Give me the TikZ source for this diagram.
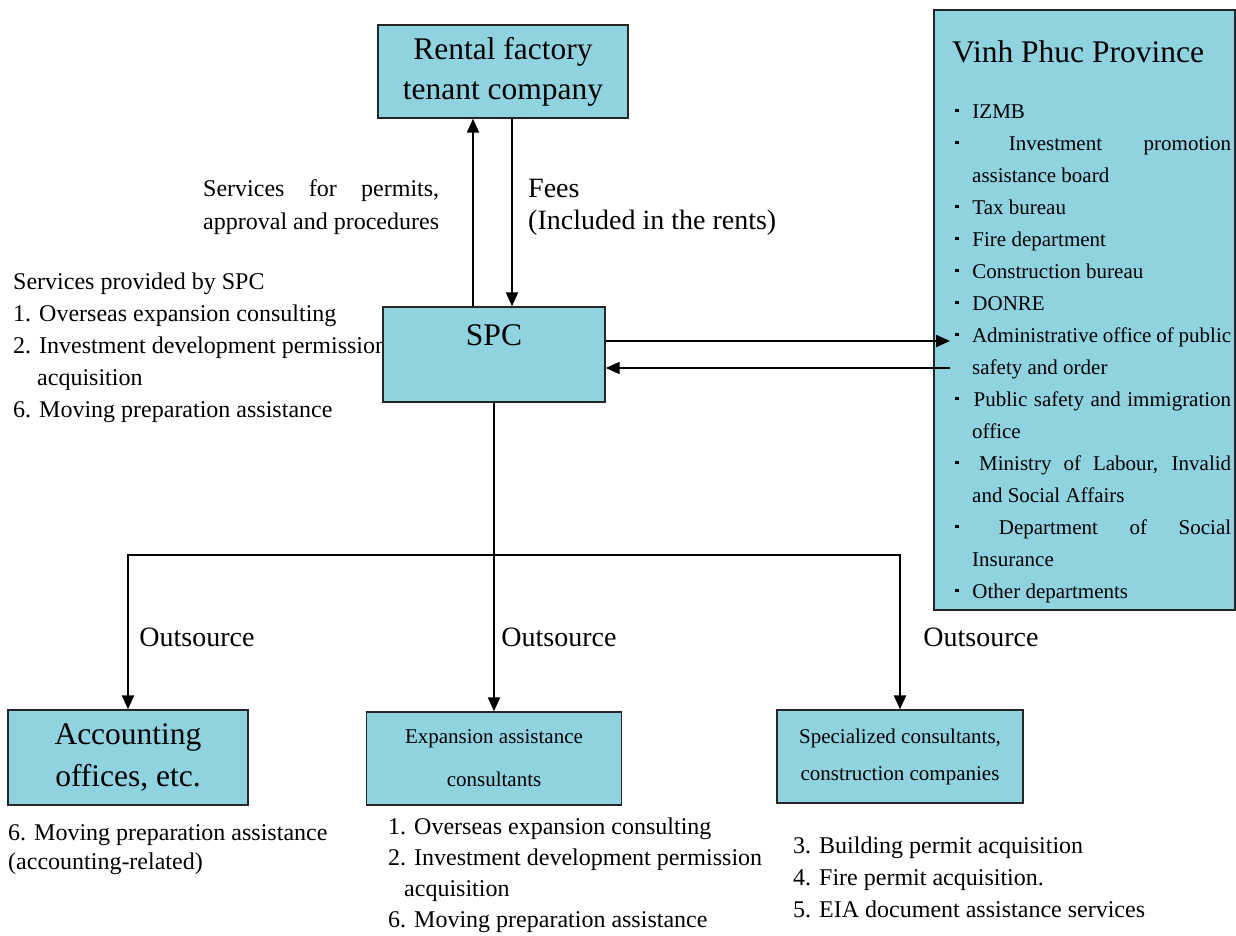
\documentclass[tikz,border=0pt]{standalone}
\usepackage{fontspec}
\setmainfont{Liberation Serif}
\usetikzlibrary{arrows.meta,positioning,calc}

\definecolor{boxblue}{RGB}{143,211,224}
\newcommand{\fs}[2]{\fontsize{#1}{#2}\selectfont}
\newcommand{\bul}{\makebox[12pt][l]{\raisebox{.28em}{\rule{3.5pt}{3.5pt}}}\ }
\newcommand{\provitem}{\par\noindent\hangindent=17pt\hangafter=1 \bul}

\tikzset{
  box/.style={draw=black!85, line width=1.4pt, fill=boxblue, align=center, inner sep=0pt},
  arr/.style={line width=2.2pt, -{Triangle[length=14pt,width=12pt]}},
  plain/.style={line width=2.2pt},
  txt/.style={align=left, inner sep=0pt, anchor=north west},
}

\begin{document}
\begin{tikzpicture}[x=1pt,y=-1pt]
  \useasboundingbox (0,0) rectangle (1236,936);

  % services list sits under the SPC box
  \node[txt, font=\fs{24}{32}] (spcserv) at (13,273) {Services provided by SPC\\
    1. Overseas expansion consulting\\
    2. Investment development permission\\
    \hspace*{24pt}acquisition\\
    6. Moving preparation assistance};

  % boxes
  \node[box, minimum width=250pt, minimum height=93pt, font=\fs{31.5}{40}] (rental) at (503,71.5) {Rental factory\\tenant company};
  \node[box, minimum width=222pt, minimum height=95pt, text height=22pt, text depth=40pt, font=\fs{31.5}{38}] (spc) at (494,354.5) {SPC};
  \node[box, minimum width=301pt, minimum height=600pt] (vinh) at (1084.5,310) {};
  \node[box, minimum width=240pt, minimum height=95pt, font=\fs{31.5}{42}] (acct) at (128,757.5) {Accounting\\offices, etc.};
  \node[box, minimum width=255pt, minimum height=93pt, font=\fs{21}{43}] (expn) at (494,758.5) {Expansion assistance\\consultants};
  \node[box, minimum width=246pt, minimum height=93pt, font=\fs{21}{37}] (spec) at (900,756.5) {Specialized consultants,\\construction companies};

  % province
  \node[anchor=base west, inner sep=0pt, font=\fs{31.5}{38}] (vinhtitle) at (952,63) {Vinh Phuc Province};
  \node[anchor=north west, inner sep=0pt, text width=276pt, align=justify, font=\fs{21}{32}] (vinhlist) at (955,86) {%
    \provitem IZMB
    \provitem Investment promotion\linebreak assistance board
    \provitem Tax bureau
    \provitem Fire department
    \provitem Construction bureau
    \provitem DONRE
    \provitem Administrative office of public\linebreak safety and order
    \provitem Public safety and immigration\linebreak office
    \provitem Ministry of Labour, Invalid\linebreak and Social Affairs
    \provitem Department of Social\linebreak Insurance
    \provitem Other departments\par};

  % labels
  \node[anchor=north west, inner sep=0pt, text width=236pt, align=justify, font=\fs{24}{33}] (servlbl) at (203,179) {Services for permits,\linebreak approval and procedures};
  \node[txt, font=\fs{28}{32}] (fees) at (528,179) {Fees\\(Included in the rents)};
  \node[inner sep=0pt, font=\fs{28}{32}] (out1) at (197,637) {Outsource};
  \node[inner sep=0pt, font=\fs{28}{32}] (out2) at (559,637) {Outsource};
  \node[inner sep=0pt, font=\fs{28}{32}] (out3) at (981,637) {Outsource};

  \node[txt, font=\fs{24}{29}] (acctlist) at (8,824) {6. Moving preparation assistance\\(accounting-related)};
  \node[txt, font=\fs{24}{31}] (expnlist) at (388,818) {1. Overseas expansion consulting\\
    2. Investment development permission\\
    \hspace*{16pt}acquisition\\
    6. Moving preparation assistance};
  \node[txt, font=\fs{24}{32}] (speclist) at (793,837) {3. Building permit acquisition\\
    4. Fire permit acquisition.\\
    5. EIA document assistance services};

  % connectors
  \coordinate (split) at (494,555);
  \coordinate (provin) at (950,341);
  \coordinate (provout) at (950,368);
  \draw[arr] ([xshift=-21pt]spc.north) -- ([xshift=-21pt]spc.north |- rental.south);
  \draw[arr] ([xshift=18pt]spc.north |- rental.south) -- ([xshift=18pt]spc.north);
  \draw[arr] (spc.east |- provin) -- (provin);
  \draw[arr] (provout) -- (spc.east |- provout);
  \draw[plain] (spc.south) -- (split);
  \draw[arr] (split) -| (acct.north);
  \draw[arr] (split) -- (expn.north);
  \draw[arr] (split) -| (spec.north);
\end{tikzpicture}
\end{document}
